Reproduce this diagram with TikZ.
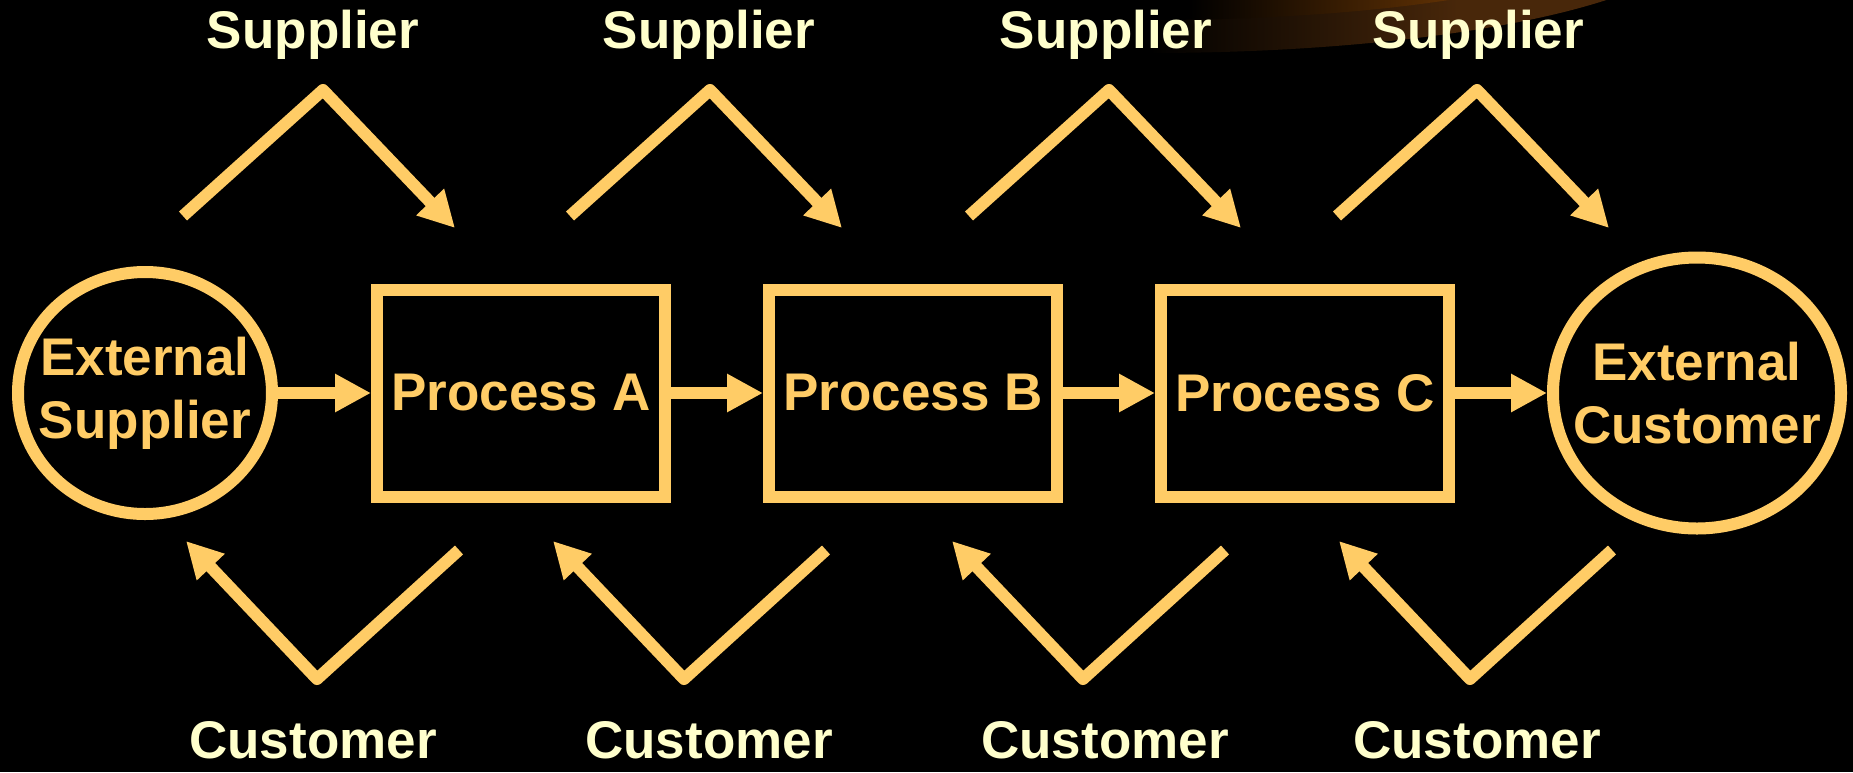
\documentclass[tikz,border=0pt]{standalone}
\usepackage{fontspec}
\setmainfont{Liberation Sans}
\usepackage{tikz}
\usetikzlibrary{arrows.meta,shapes.geometric}

\definecolor{gold}{HTML}{FFCC66}
\definecolor{cream}{HTML}{FFFFCC}
\definecolor{glowdim}{RGB}{72,39,10}
\definecolor{glowlit}{RGB}{98,50,4}

\newcommand{\bigbold}{\fontsize{53}{63}\selectfont\bfseries}

% soft brown light in the top corner
\pgfdeclarehorizontalshading{dimglow}{100bp}{color(0bp)=(black); color(50bp)=(black);
  color(64bp)=(glowdim); color(100bp)=(glowdim)}
\pgfdeclarehorizontalshading{litglow}{100bp}{color(0bp)=(black); color(52bp)=(black);
  color(66bp)=(glowlit); color(100bp)=(glowlit)}

\tikzset{
  proc/.style={draw=gold, line width=12pt, minimum width=288pt, minimum height=207pt,
    inner sep=0pt, text=gold, font=\bigbold},
  ext/.style={draw=gold, ellipse, line width=12pt, inner sep=0pt, inner xsep=-25pt,
    text=gold, font=\bigbold, align=center},
  lbl/.style={text=cream, font=\bigbold, anchor=base, inner sep=0pt},
  flow/.style={draw=gold, line width=12pt, line join=round,
    -{Triangle[length=36pt,width=36pt]}},
}

\begin{document}
\begin{tikzpicture}[x=1pt, y=-1pt]
  \useasboundingbox (0,0) rectangle (1853,772);
  \fill[black] (0,0) rectangle (1853,772);
  \begin{scope}
    \clip (0,0) rectangle (1853,772);
    \shade[shading=dimglow] (1150,-67) ellipse [x radius=550, y radius=120];
    \shade[shading=litglow] (1150,-72) ellipse [x radius=480, y radius=92];
  \end{scope}

  % chain of processes
  \node[ext, minimum width=254pt, minimum height=242pt] (esup) at (145,393) {External\\Supplier};
  \node[proc] (pa) at (521,393) {Process A};
  \node[proc] (pb) at (913,393) {Process B};
  \node[proc] (pc) at (1305,393) {Process C};
  \node[ext, minimum width=288pt, minimum height=271pt] (ecus) at (1697,393) {External\\Customer};

  \draw[flow] (esup) -- (pa);
  \draw[flow] (pa) -- (pb);
  \draw[flow] (pb) -- (pc);
  \draw[flow] (pc) -- (ecus);

  % supplier side, above
  \foreach \s/\x/\i in {183/313/1, 570/709/2, 969/1106/3, 1337/1478/4} {
    \node[lbl] (sup\i) at (\x,48) {Supplier};
    \coordinate (sa\i) at (\s,216);
    \coordinate (sb\i) at (\s+140,90);
    \coordinate (sc\i) at (\s+272,228);
    \draw[flow] (sa\i) -- (sb\i) -- (sc\i);
  }

  % customer side, below
  \foreach \s/\x/\i in {459/313/1, 826/709/2, 1225/1105/3, 1612/1477/4} {
    \node[lbl] (cus\i) at (\x,758) {Customer};
    \coordinate (ca\i) at (\s,550);
    \coordinate (cb\i) at (\s-142,679);
    \coordinate (cc\i) at (\s-273,541);
    \draw[flow] (ca\i) -- (cb\i) -- (cc\i);
  }
\end{tikzpicture}
\end{document}
